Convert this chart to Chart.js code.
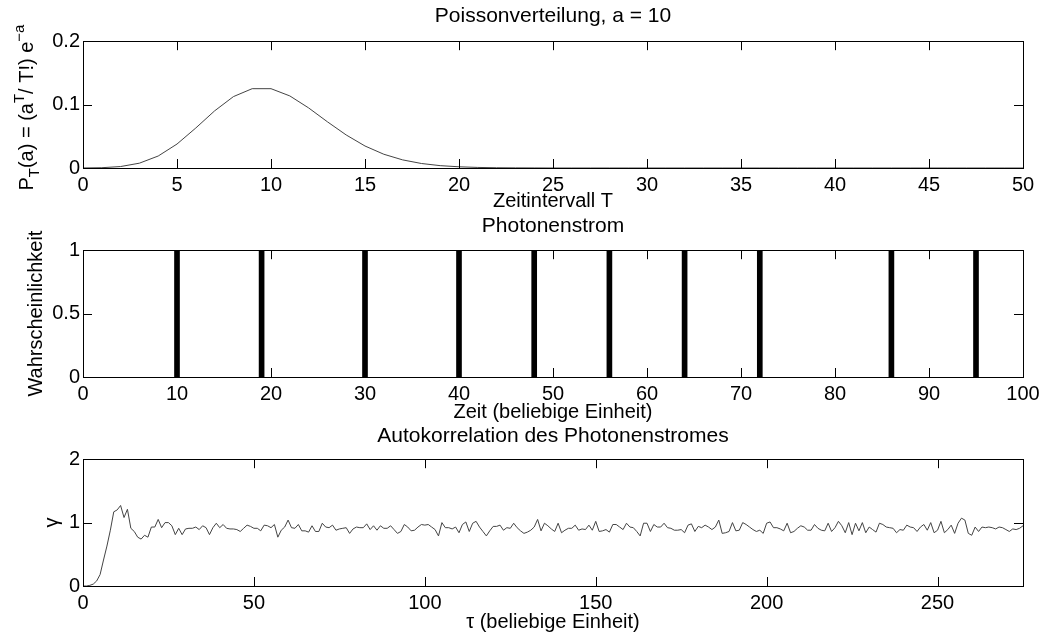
<!DOCTYPE html>
<html>
<head>
<meta charset="utf-8">
<script src="https://cdn.jsdelivr.net/npm/chart.js@4.4.1/dist/chart.umd.min.js"></script>
<style>
  body { margin: 0; background: #fff; }
  canvas { position: absolute; left: 0; }
</style>
</head>
<body>
<canvas id="c1" width="1041" height="212" style="top:0px"></canvas>
<canvas id="c2" width="1041" height="222" style="top:205px"></canvas>
<canvas id="c3" width="1041" height="220" style="top:415px"></canvas>
<script>
// Poissonverteilung a = 10, T = 0..50
var zeitT = [0,1,2,3,4,5,6,7,8,9,10,11,12,13,14,15,16,17,18,19,20,21,22,23,24,25,
  26,27,28,29,30,31,32,33,34,35,36,37,38,39,40,41,42,43,44,45,46,47,48,49,50];
var poissonP = [0.00005,0.00045,0.0023,0.0076,0.0189,0.0378,0.0631,0.0901,0.1126,0.1251,
  0.1251,0.1137,0.0948,0.0729,0.0521,0.0347,0.0217,0.0128,0.0071,0.0037,
  0.0019,0.0009,0.0004,0.0002,0.0001,0,0,0,0,0,0,0,0,0,0,0,0,0,0,0,0,0,0,0,0,0,0,0,0,0,0];

// Photonenstrom
var photonZeit = [10, 19, 30, 40, 48, 56, 64, 72, 86, 95];
var photonWert = [1, 1, 1, 1, 1, 1, 1, 1, 1, 1];

// Autokorrelation, tau = 0..275
var autoKorr = [
  0, 0, 0.01, 0.03, 0.08, 0.18, 0.41, 0.63, 0.88, 1.17,
  1.2, 1.27, 1.08, 1.21, 0.91, 0.86, 0.77, 0.74, 0.8, 0.77,
  0.93, 0.93, 1.05, 0.92, 1.0, 1.0, 0.95, 0.81, 0.91, 0.81,
  0.9, 0.91, 0.91, 0.93, 0.89, 0.95, 0.92, 0.81, 0.92, 0.99,
  0.92, 0.97, 0.91, 0.9, 0.9, 0.89, 0.86, 0.91, 0.96, 0.94,
  0.91, 0.91, 0.87, 0.96, 0.95, 0.92, 0.97, 0.77, 0.88, 0.93,
  1.04, 0.92, 0.91, 0.97, 0.87, 0.87, 0.85, 0.95, 0.86, 0.86,
  0.99, 0.93, 0.92, 0.96, 0.88, 0.9, 0.91, 0.92, 0.83, 0.9,
  0.93, 0.92, 0.92, 0.98, 0.89, 0.95, 0.88, 0.95, 0.91, 0.91,
  0.95, 0.89, 0.83, 0.86, 0.97, 0.93, 0.87, 0.88, 0.93, 0.97,
  0.96, 0.97, 0.93, 0.89, 0.79, 1.0, 0.92, 0.92, 0.9, 0.93,
  0.84, 0.97, 1.01, 0.86, 0.99, 1.02, 0.93, 0.86, 0.79, 0.87,
  0.94, 0.94, 0.96, 0.88, 0.92, 0.91, 0.99, 0.92, 0.87, 0.83,
  0.85, 0.88, 0.93, 1.05, 0.87, 0.99, 0.95, 0.9, 0.86, 0.99,
  0.84, 0.88, 0.91, 0.91, 0.96, 0.88, 0.9, 0.89, 0.96, 0.88,
  1.02, 0.86, 0.87, 0.89, 0.85, 0.97, 0.97, 0.93, 0.89, 0.99,
  0.93, 0.92, 0.86, 0.79, 0.99, 0.99, 0.86, 0.97, 0.93, 0.93,
  0.99, 0.92, 0.91, 0.88, 0.88, 0.89, 0.84, 0.96, 0.98, 0.86,
  0.94, 0.92, 0.96, 0.93, 0.89, 0.93, 1.04, 0.83, 0.84, 0.86,
  1.0, 0.87, 0.88, 1.0, 0.97, 0.93, 0.89, 0.86, 0.88, 0.83,
  0.99, 1.01, 0.92, 0.92, 0.9, 0.87, 0.99, 0.84, 0.86, 0.91,
  0.95, 0.93, 0.88, 0.88, 0.97, 0.91, 0.88, 0.87, 0.99, 0.86,
  0.92, 1.02, 0.95, 0.84, 1.0, 0.81, 0.99, 0.87, 1.0, 0.84,
  0.93, 0.89, 0.85, 0.99, 0.97, 0.93, 0.92, 0.91, 0.84, 0.89,
  0.88, 0.96, 0.93, 0.92, 0.86, 0.93, 0.97, 0.88, 1.0, 0.84,
  0.88, 1.02, 0.84, 0.89, 0.96, 0.83, 0.99, 1.07, 1.04, 0.83,
  0.8, 0.93, 0.86, 0.93, 0.92, 0.93, 0.92, 0.9, 0.93, 0.92,
  0.89, 0.86, 0.9, 0.89, 0.91, 0.95
];

var FONT = "'Liberation Sans', Arial, Helvetica, sans-serif";
var AREA_LEFT = 83;

// matlab-artige Ticks nach innen + Rahmen
var innerTicks = {
  id: 'innerTicks',
  afterDraw: function(chart) {
    var ctx = chart.ctx, a = chart.chartArea, sx = chart.scales.x, sy = chart.scales.y;
    var len = 9;
    ctx.save();
    ctx.strokeStyle = '#000';
    ctx.lineWidth = 1;
    ctx.beginPath();
    sx.ticks.forEach(function(t) {
      var px = Math.round(sx.getPixelForValue(t.value)) + 0.5;
      ctx.moveTo(px, a.bottom); ctx.lineTo(px, a.bottom - len);
      ctx.moveTo(px, a.top); ctx.lineTo(px, a.top + len);
    });
    sy.ticks.forEach(function(t) {
      var py = Math.round(sy.getPixelForValue(t.value)) + 0.5;
      ctx.moveTo(a.left, py); ctx.lineTo(a.left + len, py);
      ctx.moveTo(a.right, py); ctx.lineTo(a.right - len, py);
    });
    ctx.stroke();
    ctx.strokeRect(Math.round(a.left) + 0.5, Math.round(a.top) + 0.5,
      Math.round(a.width), Math.round(a.height));
    ctx.restore();
  }
};

// y-Beschriftung mit Hoch-/Tiefstellung fuer die Poissonkurve
var poissonYLabel = {
  id: 'poissonYLabel',
  afterDraw: function(chart) {
    var ctx = chart.ctx, a = chart.chartArea;
    var parts = [
      ['P', 0, 20], ['T', 6, 15], ['(a) = (a', 0, 20], ['T', -9, 15],
      ['/ T!) e', 0, 20], ['\u2212a', -9, 15]
    ];
    ctx.save();
    var total = 0;
    parts.forEach(function(p) {
      ctx.font = p[2] + 'px ' + FONT;
      total += ctx.measureText(p[0]).width;
    });
    ctx.translate(33, (a.top + a.bottom) / 2 + 3);
    ctx.rotate(-Math.PI / 2);
    ctx.fillStyle = '#000';
    ctx.textBaseline = 'alphabetic';
    var x = -total / 2;
    parts.forEach(function(p) {
      ctx.font = p[2] + 'px ' + FONT;
      ctx.fillText(p[0], x, p[1]);
      x += ctx.measureText(p[0]).width;
    });
    ctx.restore();
  }
};

function fmt(v) {
  return String(+v.toFixed(3));
}

function makeOptions(o) {
  return {
    responsive: false,
    animation: false,
    layout: { padding: { left: 0, right: 18, top: 0, bottom: 0 } },
    plugins: {
      legend: { display: false },
      tooltip: { enabled: false },
      title: {
        display: true, text: o.title, color: '#000', fullSize: false,
        font: { family: FONT, size: 21, weight: 'normal', lineHeight: 1.2 },
        padding: o.titlePad
      }
    },
    scales: {
      x: {
        type: 'linear', min: o.xmin, max: o.xmax, offset: false,
        grid: { display: false, drawTicks: false }, border: { display: false },
        ticks: { stepSize: o.xstep, color: '#000', padding: 5, maxRotation: 0,
          font: { family: FONT, size: 20 }, callback: fmt },
        title: { display: true, text: o.xtitle, color: '#000',
          font: { family: FONT, size: 20 }, padding: { top: 0, bottom: o.xtitleBottom } },
        afterBuildTicks: function(s) {
          s.ticks = s.ticks.filter(function(t) { return Math.abs(t.value / o.xstep - Math.round(t.value / o.xstep)) < 1e-6; });
        },
        afterFit: function(s) { s.height = o.canvasH - o.areaBottom; s.paddingLeft = 0; s.paddingRight = 0; }
      },
      y: {
        min: o.ymin, max: o.ymax,
        grid: { display: false, drawTicks: false }, border: { display: false },
        ticks: { stepSize: o.ystep, color: '#000', padding: 3,
          font: { family: FONT, size: 20 }, callback: fmt },
        title: { display: !!o.ytitle, text: o.ytitle || '', color: '#000',
          font: { family: FONT, size: 20 }, padding: { top: o.ytitlePad || 0, bottom: 0 } },
        afterFit: function(s) { s.width = AREA_LEFT; s.paddingTop = 0; s.paddingBottom = 0; }
      }
    }
  };
}

new Chart(document.getElementById('c1'), {
  type: 'line',
  data: {
    datasets: [{
      data: zeitT.map(function(t, i) { return { x: t, y: poissonP[i] }; }),
      borderColor: '#444', borderWidth: 1, pointRadius: 0, tension: 0
    }]
  },
  options: makeOptions({
    title: 'Poissonverteilung, a = 10', titlePad: { top: 4, bottom: 12 },
    xmin: 0, xmax: 50, xstep: 5, xtitle: 'Zeitintervall T', xtitleBottom: -1,
    ymin: 0, ymax: 0.2, ystep: 0.1, canvasH: 212, areaBottom: 168
  }),
  plugins: [innerTicks, poissonYLabel]
});

new Chart(document.getElementById('c2'), {
  type: 'bar',
  data: {
    datasets: [{
      data: photonZeit.map(function(t, i) { return { x: t, y: photonWert[i] }; }),
      backgroundColor: '#000', borderWidth: 0, barThickness: 5
    }]
  },
  options: makeOptions({
    title: 'Photonenstrom', titlePad: { top: 9, bottom: 11 },
    xmin: 0, xmax: 100, xstep: 10, xtitle: 'Zeit (beliebige Einheit)', xtitleBottom: 3,
    ymin: 0, ymax: 1, ystep: 0.5, ytitle: 'Wahrscheinlichkeit', ytitlePad: 24,
    canvasH: 222, areaBottom: 172
  }),
  plugins: [innerTicks]
});

new Chart(document.getElementById('c3'), {
  type: 'line',
  data: {
    datasets: [{
      data: autoKorr.map(function(v, i) { return { x: i, y: v }; }),
      borderColor: '#444', borderWidth: 1, pointRadius: 0, tension: 0
    }]
  },
  options: makeOptions({
    title: 'Autokorrelation des Photonenstromes', titlePad: { top: 9, bottom: 10 },
    xmin: 0, xmax: 275, xstep: 50, xtitle: '\u03c4 (beliebige Einheit)', xtitleBottom: 1,
    ymin: 0, ymax: 2, ystep: 1, ytitle: '\u03b3', ytitlePad: 40,
    canvasH: 220, areaBottom: 171
  }),
  plugins: [innerTicks]
});
</script>
</body>
</html>
